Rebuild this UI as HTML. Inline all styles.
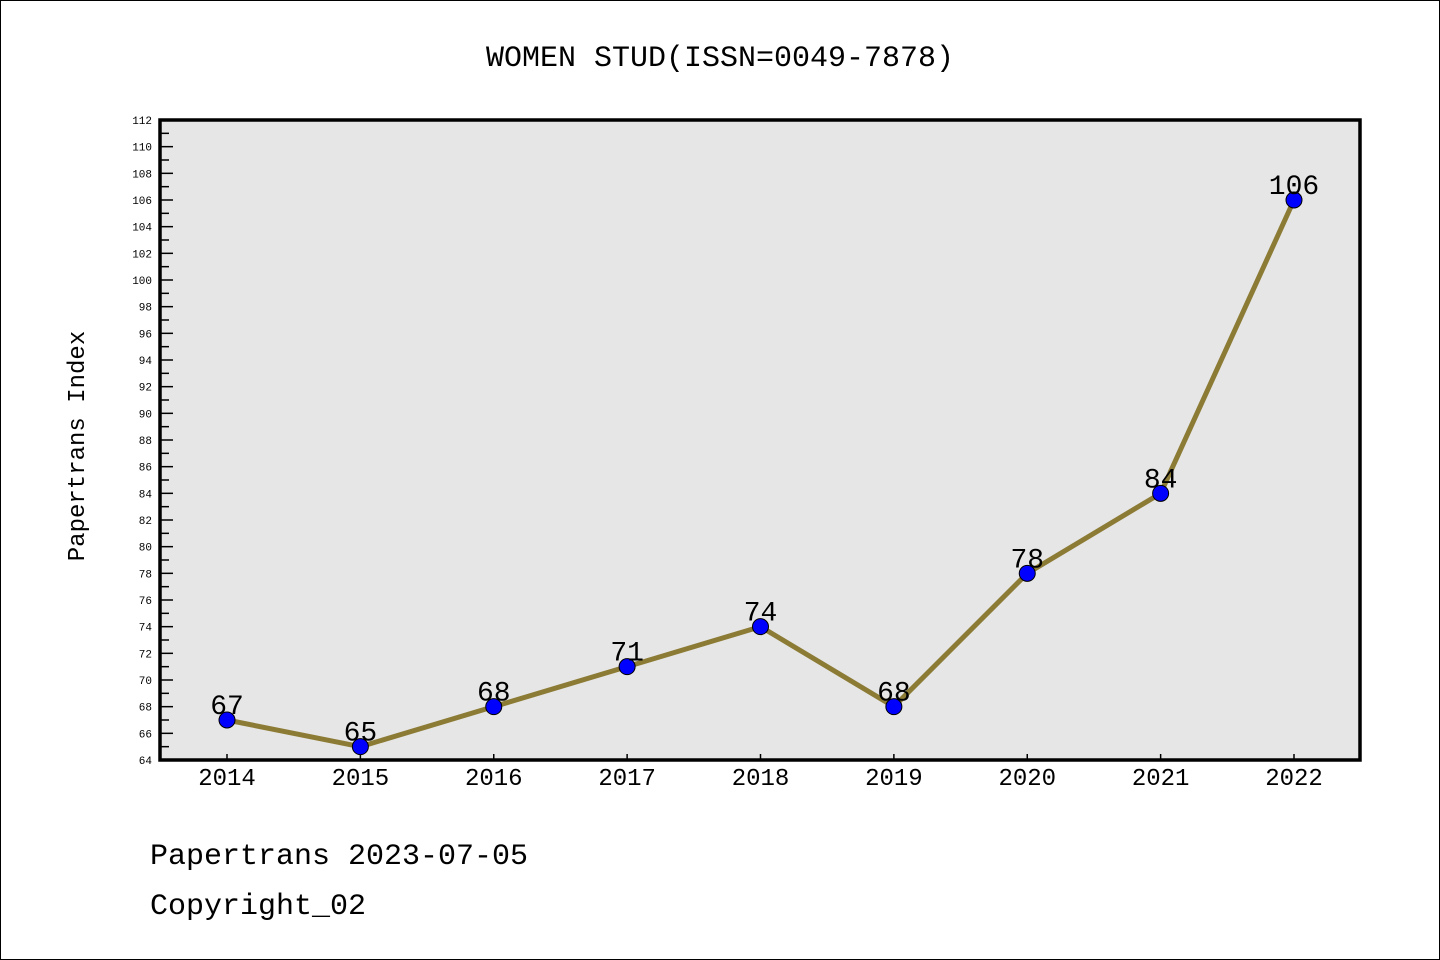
<!DOCTYPE html>
<html><head><meta charset="utf-8"><style>
body{margin:0;background:#fff}
svg{display:block}
text{font-family:"Liberation Mono","DejaVu Sans Mono",monospace}
</style></head><body>
<svg id="c" width="1440" height="960" xmlns="http://www.w3.org/2000/svg">
<rect x="0.5" y="0.5" width="1439" height="959" fill="#fff" stroke="#000"/>
<text x="720" y="66" font-size="30" text-anchor="middle">WOMEN STUD(ISSN=0049-7878)</text>
<rect x="160" y="120" width="1200" height="640" fill="#e6e6e6"/>
<g id="ticks"></g>
<g id="series"></g>
<rect x="160" y="120" width="1200" height="640" fill="none" stroke="#000" stroke-width="3.5"/>
<text transform="translate(84,446) rotate(-90)" font-size="24" text-anchor="middle">Papertrans Index</text>
<text x="150" y="864" font-size="30">Papertrans 2023-07-05</text>
<text x="150" y="914" font-size="30">Copyright_02</text>
</svg>
<script>
const years=["2014","2015","2016","2017","2018","2019","2020","2021","2022"];
const values=[67,65,68,71,74,68,78,84,106];
const yMin=64,yMax=112;
const NS="http://www.w3.org/2000/svg";
function X(i){return 227+i*(1294-227)/(years.length-1);}
function Y(v){return 760-(v-yMin)*(640/(yMax-yMin));}
function mk(tag,attrs,parent){const e=document.createElementNS(NS,tag);for(const k in attrs)e.setAttribute(k,attrs[k]);parent.appendChild(e);return e;}
const tg=document.getElementById('ticks'),sg=document.getElementById('series');
for(let v=yMin;v<=yMax;v++){
  const major=v%2===0;
  const t=mk('line',{x1:160,x2:160+(major?13:9),y1:Y(v),y2:Y(v),stroke:'#000','stroke-width':1.5},tg);
  
  
  if(major){
    const l=mk('text',{x:152,y:Y(v)+4,'font-size':11,'text-anchor':'end','font-family':'DejaVu Sans, sans-serif'},tg);
    l.textContent=v;
    
    
  }
}
years.forEach((yr,i)=>{
  const t=mk('line',{x1:X(i),x2:X(i),y1:760,y2:754,stroke:'#000','stroke-width':1.5},tg);
  
  
  const l=mk('text',{x:X(i),y:785,'font-size':24,'text-anchor':'middle','font-family':'DejaVu Sans, sans-serif'},tg);
  l.textContent=yr;
  
  
});
const line=mk('polyline',{points:values.map((v,i)=>X(i)+','+Y(v)).join(' '),fill:'none',stroke:'#8c7b35','stroke-width':5},sg);


values.forEach((v,i)=>{
  const c=mk('circle',{cx:X(i),cy:Y(v),r:8,fill:'#0000ff',stroke:'#000','stroke-width':1},sg);
  
  
  const l=mk('text',{x:X(i),y:Y(v)-6,'font-size':28,'text-anchor':'middle','font-family':'Liberation Sans, sans-serif'},sg);
  l.textContent=v;
  
  
});
</script>
</body></html>
